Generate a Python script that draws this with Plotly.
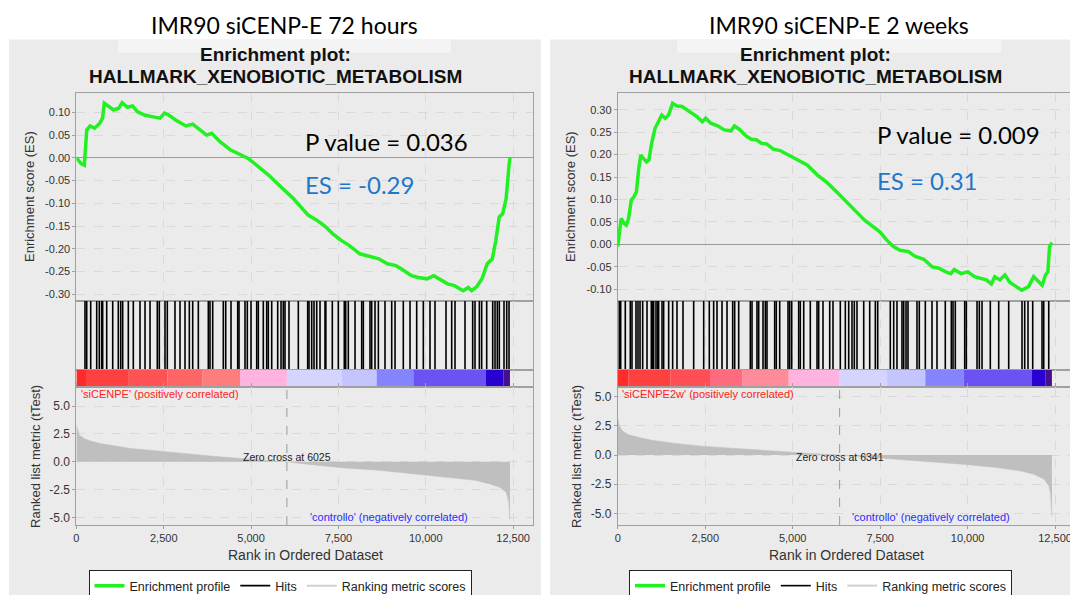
import plotly.graph_objects as go

W, H = 1070, 595

# ---------------- data: left (72 hours) ----------------
left_es_rank = [0,128,227,296,394,522,670,749,798,917,1064,1212,1311,1459,1607,1754,1951,2198,2395,2523,
                2641,2839,3134,3331,3479,3726,3873,4120,4415,4711,4908,5155,5500,5795,6190,6633,6879,7126,7323,7569,
                7816,8111,8407,8654,8900,9146,9294,9590,9787,10033,10230,10477,10625,10822,11068,11216,11315,11462,11610,11758,
                11905,12004,12103,12201,12300,12379,12410]
left_es_val = [0.0,-0.012,-0.016,0.061,0.070,0.065,0.076,0.087,0.120,0.114,0.105,0.109,0.121,0.111,0.114,0.101,0.094,0.090,0.087,0.098,
               0.094,0.083,0.070,0.074,0.065,0.050,0.054,0.035,0.017,0.006,-0.001,-0.016,-0.038,-0.060,-0.088,-0.126,-0.137,-0.151,-0.166,-0.181,
               -0.193,-0.211,-0.218,-0.222,-0.233,-0.237,-0.244,-0.259,-0.263,-0.266,-0.259,-0.270,-0.277,-0.281,-0.292,-0.285,-0.292,-0.283,-0.266,-0.233,
               -0.222,-0.182,-0.130,-0.123,-0.090,-0.020,0.0]
left_hits = [246,295,409,581,656,724,752,867,1039,1199,1268,1325,1486,1629,1820,1964,2107,2316,2373,2536,2602,2822,2965,3109,
             3232,3329,3490,3776,3824,3901,4205,4274,4425,4617,4654,4826,4892,4998,5161,5207,5350,5447,5493,5590,5762,5857,
             5922,5971,6085,6352,6620,6658,6735,6801,6878,6973,7116,7140,7325,7497,7668,7708,7783,7975,8166,8213,8404,8452,
             8547,8643,8833,9025,9120,9357,9549,9740,9930,10121,10264,10579,10742,10837,11123,11343,11409,11534,11600,11744,
             11916,11982,12048,12105,12239,12317,12383]
left_rm_rank = [0,80,227,375,670,1064,1557,2247,3035,3922,4711,5697,6025,6682,7668,8654,9639,10625,11413,11807,12102,12299,12378,12410]
left_rm_val = [3.3,2.4,2.1,1.9,1.65,1.44,1.2,1.0,0.75,0.5,0.3,0.1,0.0,-0.24,-0.54,-0.75,-1.05,-1.35,-1.65,-1.95,-2.25,-2.7,-3.6,-5.2]
left_cb_edges = [0,300,1500,2600,3600,4683,6025,7600,8596,9644,11724,12220,12410]
left_cb_colors = ['#ff2b2b','#ff4040','#ff5252','#ff6565','#ff7d7d','#ffb3de','#d4d4ff','#c4c4ff','#8484ff','#6b52f2','#2a00d0','#45108f']
left_zero_cross = 6025
left_es_ticks = [0.10,0.05,0.0,-0.05,-0.10,-0.15,-0.20,-0.25,-0.30]
left_es_ticktext = ['0.10','0.05','0.00','-0.05','-0.10','-0.15','-0.20','-0.25','-0.30']

# ---------------- data: right (2 weeks) ----------------
right_es_rank = [0,29,97,174,242,309,387,464,532,599,657,725,822,889,967,1063,1160,1256,1353,1450,
                 1566,1691,1836,1981,2126,2271,2416,2513,2658,2851,3044,3238,3334,3479,3673,3818,3963,4108,4253,4446,
                 4639,4833,5026,5219,5412,5702,5992,6282,6572,6814,7055,7297,7490,7684,7877,8070,8312,8505,8747,8988,
                 9182,9375,9520,9617,9810,10003,10197,10342,10535,10680,10776,10921,11066,11211,11356,11550,11743,11888,12033,12130,
                 12226,12294,12342,12410]
right_es_val = [-0.005,0.020,0.058,0.047,0.043,0.058,0.099,0.106,0.117,0.169,0.199,0.192,0.184,0.188,0.225,0.258,0.273,0.288,0.281,0.288,
                0.314,0.308,0.307,0.299,0.290,0.284,0.273,0.281,0.270,0.264,0.255,0.253,0.264,0.256,0.241,0.234,0.233,0.225,0.224,0.212,
                0.209,0.201,0.194,0.184,0.177,0.155,0.137,0.115,0.091,0.073,0.054,0.039,0.028,0.010,-0.005,-0.013,-0.016,-0.027,-0.033,-0.050,
                -0.053,-0.061,-0.065,-0.056,-0.065,-0.061,-0.072,-0.075,-0.079,-0.088,-0.072,-0.079,-0.068,-0.085,-0.093,-0.102,-0.094,-0.072,-0.083,-0.091,
                -0.068,-0.061,-0.005,0.004]
right_hits = [43,83,214,357,406,520,577,635,711,835,958,986,1026,1092,1141,1168,1264,1311,1454,1568,1692,1864,2169,2455,
              2616,2740,2836,2979,3122,3284,3341,3456,3788,3837,3979,4028,4151,4217,4265,4485,4531,4628,4866,4914,4971,5171,
              5217,5315,5503,5695,5743,5866,6058,6152,6361,6504,6601,6695,6761,6838,7030,7201,7362,7430,7790,7887,7981,8124,
              8173,8239,8296,8553,8619,8791,8982,9125,9362,9534,9583,9648,9917,9963,10269,10335,10412,10649,10889,11175,
              11555,11632,11727,11861,12127,12176,12319]
right_rm_rank = [0,48,145,290,580,967,1643,2416,3383,4349,5509,6341,6958,7925,8891,9858,10824,11501,11888,12178,12323,12371,12410]
right_rm_val = [3.16,2.46,2.03,1.75,1.53,1.27,0.99,0.76,0.56,0.34,0.14,0.0,-0.14,-0.37,-0.56,-0.79,-1.07,-1.36,-1.64,-2.06,-2.63,-3.33,-5.3]
right_cb_edges = [0,300,1500,2636,3553,4885,6341,7700,8791,9888,11841,12221,12410]
right_cb_colors = ['#ff2b2b','#ff4040','#ff4f55','#ff6a7f','#ff8a9a','#ffb3de','#d4d4ff','#c4c4ff','#8484ff','#6b52f2','#2a00d0','#45108f']
right_zero_cross = 6341
right_es_ticks = [0.30,0.25,0.20,0.15,0.10,0.05,0.0,-0.05,-0.10]
right_es_ticktext = ['0.30','0.25','0.20','0.15','0.10','0.05','0.00','-0.05','-0.10']

rm_ticks = [5.0,2.5,0.0,-2.5,-5.0]
rm_ticktext = ['5.0','2.5','0.0','-2.5','-5.0']

panel_titles = ['IMR90 siCENP-E 72 hours', 'IMR90 siCENP-E 2 weeks']
p_texts = ['P value = 0.036', 'P value = 0.009']
es_texts = ['ES = -0.29', 'ES = 0.31']
pos_labels = ["'siCENPE' (positively correlated)", "'siCENPE2w' (positively correlated)"]
neg_label = "'controllo' (negatively correlated)"
legend_names = ['Enrichment profile', 'Hits', 'Ranking metric scores']

# ---------------- helpers ----------------
def X(px):
    return px / W

def Y(py):
    return 1 - py / H

TICKFONT = dict(family='Liberation Sans', size=11, color='#333333')
GRID = '#d9d9d9'
LINE = '#a0a0a0'

fig = go.Figure()

panels = [
    dict(xa='x', ya=['y', 'y2', 'y3', 'y4'], leg='legend',
         es_r=left_es_rank, es_v=left_es_val, hits=left_hits, rm_r=left_rm_rank, rm_v=left_rm_val,
         cbe=left_cb_edges, cbc=left_cb_colors, zc=left_zero_cross),
    dict(xa='x2', ya=['y5', 'y6', 'y7', 'y8'], leg='legend2',
         es_r=right_es_rank, es_v=right_es_val, hits=right_hits, rm_r=right_rm_rank, rm_v=right_rm_val,
         cbe=right_cb_edges, cbc=right_cb_colors, zc=right_zero_cross),
]

for p in panels:
    # enrichment profile
    fig.add_trace(go.Scatter(x=p['es_r'], y=p['es_v'], mode='lines', name=legend_names[0],
                             line=dict(color='#22f022', width=3.5), xaxis=p['xa'], yaxis=p['ya'][0],
                             legend=p['leg'], hoverinfo='skip'))
    # hits
    hx, hy = [], []
    for h in p['hits']:
        hx += [h, h, None]
        hy += [0, 1, None]
    fig.add_trace(go.Scatter(x=hx, y=hy, mode='lines', name=legend_names[1],
                             line=dict(color='#000000', width=1.6), xaxis=p['xa'], yaxis=p['ya'][1],
                             legend=p['leg'], hoverinfo='skip'))
    # ranking metric legend entry
    fig.add_trace(go.Scatter(x=[None], y=[None], mode='lines', name=legend_names[2],
                             line=dict(color='#d0d0d0', width=2), xaxis=p['xa'], yaxis=p['ya'][3],
                             legend=p['leg']))
    # color band
    e = p['cbe']
    mids = [(e[i] + e[i + 1]) / 2 for i in range(len(e) - 1)]
    wid = [e[i + 1] - e[i] for i in range(len(e) - 1)]
    fig.add_trace(go.Bar(x=mids, y=[1] * len(mids), width=wid, base=0,
                         marker=dict(color=p['cbc'], line=dict(width=0)),
                         xaxis=p['xa'], yaxis=p['ya'][2], showlegend=False, hoverinfo='skip'))
    # ranked list metric
    fig.add_trace(go.Scatter(x=p['rm_r'], y=p['rm_v'], mode='lines', fill='tozeroy',
                             fillcolor='#bfbfbf', line=dict(color='#bfbfbf', width=0.5),
                             xaxis=p['xa'], yaxis=p['ya'][3], showlegend=False, hoverinfo='skip'))

# ---------------- axes ----------------
d_es = [Y(301), Y(93)]
d_hits = [Y(370), Y(301)]
d_cb = [Y(387), Y(370)]
d_rm = [Y(525), Y(387)]

def xaxis(domain, rng, anchor):
    return dict(domain=domain, range=rng, anchor=anchor, tick0=0, dtick=2500, tickformat=',d',
                showgrid=True, gridcolor=GRID, griddash='dash', gridwidth=1,
                showline=True, linecolor=LINE, linewidth=1, mirror='all', ticklabeloverflow='allow',
                ticks='outside', ticklen=3, tickcolor=LINE, zeroline=False, tickfont=TICKFONT)

def yaxis_es(domain, rng, tv, tt, anchor):
    return dict(domain=domain, range=rng, anchor=anchor, tickvals=tv, ticktext=tt,
                showgrid=True, gridcolor=GRID, griddash='dash', zeroline=True, zerolinecolor='#9a9a9a',
                zerolinewidth=1, showline=True, linecolor=LINE, mirror=True, ticks='outside', ticklen=3,
                tickcolor=LINE, tickfont=TICKFONT)

def yaxis_plain(domain, anchor):
    return dict(domain=domain, range=[0, 1], anchor=anchor, showticklabels=False, showgrid=False,
                zeroline=False, showline=True, linecolor=LINE, mirror=True, ticks='', fixedrange=True)

def yaxis_rm(domain, rng, anchor):
    return dict(domain=domain, range=rng, anchor=anchor, tickvals=rm_ticks, ticktext=rm_ticktext,
                showgrid=True, gridcolor=GRID, griddash='dash', zeroline=False,
                showline=True, linecolor=LINE, mirror=True, ticks='outside', ticklen=3, tickcolor=LINE,
                tickfont=dict(family='Liberation Sans', size=12, color='#333333'))

LEGFONT = dict(family='Liberation Sans', size=12.5, color='#222222')
layout = dict(
    width=W, height=H,
    margin=dict(l=0, r=0, t=0, b=0, autoexpand=False),
    paper_bgcolor='white', plot_bgcolor='white',
    xaxis=xaxis([X(76.4), X(533.1)], [0, 13072], 'y4'),
    yaxis=yaxis_es(d_es, [-0.3147, 0.1424], left_es_ticks, left_es_ticktext, 'x'),
    yaxis2=yaxis_plain(d_hits, 'x'),
    yaxis3=yaxis_plain(d_cb, 'x'),
    yaxis4=yaxis_rm(d_rm, [-5.65, 6.70], 'x'),
    xaxis2=xaxis([X(617.8), 1.0], [0, 12927], 'y8'),
    yaxis5=yaxis_es(d_es, [-0.126, 0.3372], right_es_ticks, right_es_ticktext, 'x2'),
    yaxis6=yaxis_plain(d_hits, 'x2'),
    yaxis7=yaxis_plain(d_cb, 'x2'),
    yaxis8=yaxis_rm(d_rm, [-6.0, 5.83], 'x2'),
    showlegend=True,
    legend=dict(orientation='h', x=X(88.5), y=Y(570), xanchor='left', yanchor='top',
                bgcolor='white', bordercolor='#222222', borderwidth=1, itemwidth=30, font=LEGFONT),
    legend2=dict(orientation='h', x=X(629), y=Y(570), xanchor='left', yanchor='top',
                 bgcolor='white', bordercolor='#222222', borderwidth=1, itemwidth=30, font=LEGFONT),
)
fig.update_layout(**layout)

# ---------------- background shapes ----------------
shapes = [
    dict(type='rect', xref='paper', yref='paper', x0=X(9), x1=X(541), y0=0, y1=Y(39.5),
         fillcolor='#ebebeb', line=dict(width=0), layer='below'),
    dict(type='rect', xref='paper', yref='paper', x0=X(118), x1=X(451), y0=Y(52.7), y1=Y(39.5),
         fillcolor='#f4f4f4', line=dict(width=0), layer='below'),
    dict(type='rect', xref='paper', yref='paper', x0=X(550), x1=1.0, y0=0, y1=Y(39.5),
         fillcolor='#ebebeb', line=dict(width=0), layer='below'),
    dict(type='rect', xref='paper', yref='paper', x0=X(677), x1=X(1001.5), y0=Y(52.7), y1=Y(39.5),
         fillcolor='#f4f4f4', line=dict(width=0), layer='below'),
    dict(type='line', xref='x', yref='y4 domain', x0=left_zero_cross, x1=left_zero_cross, y0=0, y1=1,
         line=dict(color='#9a9a9a', width=1, dash='dash')),
    dict(type='line', xref='x2', yref='y8 domain', x0=right_zero_cross, x1=right_zero_cross, y0=0, y1=1,
         line=dict(color='#9a9a9a', width=1, dash='dash')),
]
fig.update_layout(shapes=shapes)

# ---------------- annotations ----------------
ann = []
def A(text, x, y, size, color='#000000', family='Liberation Sans', xanchor='center', yanchor='middle',
      xref='paper', bold=False, angle=0):
    ann.append(dict(text=('<b>%s</b>' % text) if bold else text, x=x, y=y, xref=xref, yref='paper',
                    xanchor=xanchor, yanchor=yanchor, showarrow=False, textangle=angle,
                    font=dict(family=family, size=size, color=color)))

# panel titles
A(panel_titles[0], X(284.5), Y(25), 23, family='Lato')
A(panel_titles[1], X(839), Y(25), 23, family='Lato')
for cx in (275.5, 815.5):
    A('Enrichment plot:', X(cx), Y(54), 19, color='#111111', bold=True)
    A('HALLMARK_XENOBIOTIC_METABOLISM', X(cx), Y(77), 19, color='#111111', bold=True)
# stats
A(p_texts[0], X(303), Y(141.7), 24, family='Lato', xanchor='left')
A(es_texts[0], X(303), Y(184.3), 24, color='#1f77c9', family='Lato', xanchor='left')
A(p_texts[1], X(874.7), Y(135), 24, family='Lato', xanchor='left')
A(es_texts[1], X(874.7), Y(180), 24, color='#1f77c9', family='Lato', xanchor='left')
# y axis titles
A('Enrichment score (ES)', X(29.3), Y(196.7), 13, color='#333333', angle=-90)
A('Ranked list metric (tTest)', X(36.2), Y(456.7), 13, color='#333333', angle=-90)
A('Enrichment score (ES)', X(570.4), Y(196.7), 13, color='#333333', angle=-90)
A('Ranked list metric (tTest)', X(576.2), Y(456.7), 13, color='#333333', angle=-90)
# correlation labels
A(pos_labels[0], X(79), Y(394), 11, color='#ff2020', xanchor='left')
A(pos_labels[1], X(620), Y(394), 11, color='#ff2020', xanchor='left')
A(neg_label, X(389), Y(516.7), 11, color='#2a2aff')
A(neg_label, X(930.5), Y(516.7), 11, color='#2a2aff')
# zero cross
A('Zero cross at %d' % left_zero_cross, left_zero_cross, Y(457.3), 10.5, color='#222222', xref='x')
A('Zero cross at %d' % right_zero_cross, right_zero_cross, Y(457.3), 10.5, color='#222222', xref='x2')
# x axis titles
A('Rank in Ordered Dataset', X(305), Y(555), 14, color='#333333')
A('Rank in Ordered Dataset', X(846), Y(555), 14, color='#333333')

fig.update_layout(annotations=ann)

fig.write_html('out.html', config={'displayModeBar': False},
               post_script="document.body.style.margin='0';document.body.style.overflow='hidden';")
